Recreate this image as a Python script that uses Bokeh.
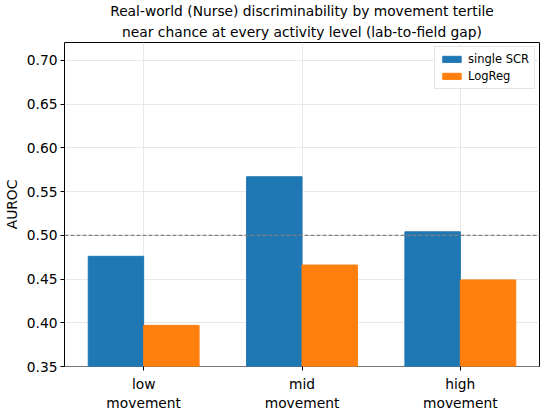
from bokeh.plotting import figure
from bokeh.models import ColumnDataSource, FactorRange, Range1d, Span, SingleIntervalTicker, NumeralTickFormatter, Title
from bokeh.transform import dodge
from bokeh.embed import file_html
from bokeh.resources import INLINE

categories = ["low\nmovement", "mid\nmovement", "high\nmovement"]
single_scr = [0.476, 0.567, 0.504]
logreg = [0.397, 0.466, 0.449]
chance = 0.5
title_lines = ["Real-world (Nurse) discriminability by movement tertile",
               "near chance at every activity level (lab-to-field gap)"]

FONT = "DejaVu Sans"

source = ColumnDataSource(dict(cat=categories, scr=single_scr, lr=logreg))

p = figure(title=None,
           x_range=FactorRange(factors=categories, range_padding=0),
           y_range=Range1d(0.35, 0.7205),
           frame_width=475, frame_height=324,
           min_border_left=59, min_border_right=8, min_border_top=0, min_border_bottom=36,
           output_backend="svg", toolbar_location=None)

for i, line in enumerate(reversed(title_lines)):
    t = Title(text=line, align="center", text_font=FONT, text_font_size="13.8px",
              text_font_style="normal", text_color="black",
              standoff=6 if i == 0 else 0, offset=0)
    p.add_layout(t, "above")

p.vbar(x=dodge("cat", -0.175, range=p.x_range), top="scr", width=0.35, bottom=0,
       source=source, color="#1f77b4", legend_label="single SCR")
p.vbar(x=dodge("cat", 0.175, range=p.x_range), top="lr", width=0.35, bottom=0,
       source=source, color="#ff7f0e", legend_label="LogReg")

p.add_layout(Span(location=chance, dimension="width", line_color="#808080",
                  line_dash="4 2", line_width=1.3))

p.yaxis.ticker = SingleIntervalTicker(interval=0.05)
p.yaxis.formatter = NumeralTickFormatter(format="0.00")
p.yaxis.axis_label = "AUROC"
p.yaxis.axis_label_text_font = FONT
p.yaxis.axis_label_text_font_size = "13.8px"
p.yaxis.axis_label_text_font_style = "normal"
p.yaxis.axis_label_text_color = "black"
p.yaxis.axis_label_standoff = 4
p.yaxis.major_label_standoff = 3

for ax in (p.xaxis, p.yaxis):
    ax.major_label_text_font = FONT
    ax.major_label_text_font_size = "13.8px"
    ax.major_label_text_color = "black"
    ax.axis_line_color = None
    ax.major_tick_line_color = "black"
    ax.major_tick_out = 4
    ax.major_tick_in = 0
    ax.minor_tick_line_color = None
p.xaxis.major_label_standoff = 5

p.outline_line_color = "black"
p.outline_line_width = 1
p.xgrid.grid_line_color = "#e8e8e8"
p.ygrid.grid_line_color = "#e8e8e8"

p.legend.location = "top_right"
p.legend.label_text_font = FONT
p.legend.label_text_font_size = "11.5px"
p.legend.label_text_color = "black"
p.legend.glyph_width = 23
p.legend.glyph_height = 8
p.legend.border_line_color = "#cccccc"
p.legend.margin = 4
p.legend.padding = 5
p.legend.spacing = 3

open("out.html", "w").write(file_html(p, INLINE))
